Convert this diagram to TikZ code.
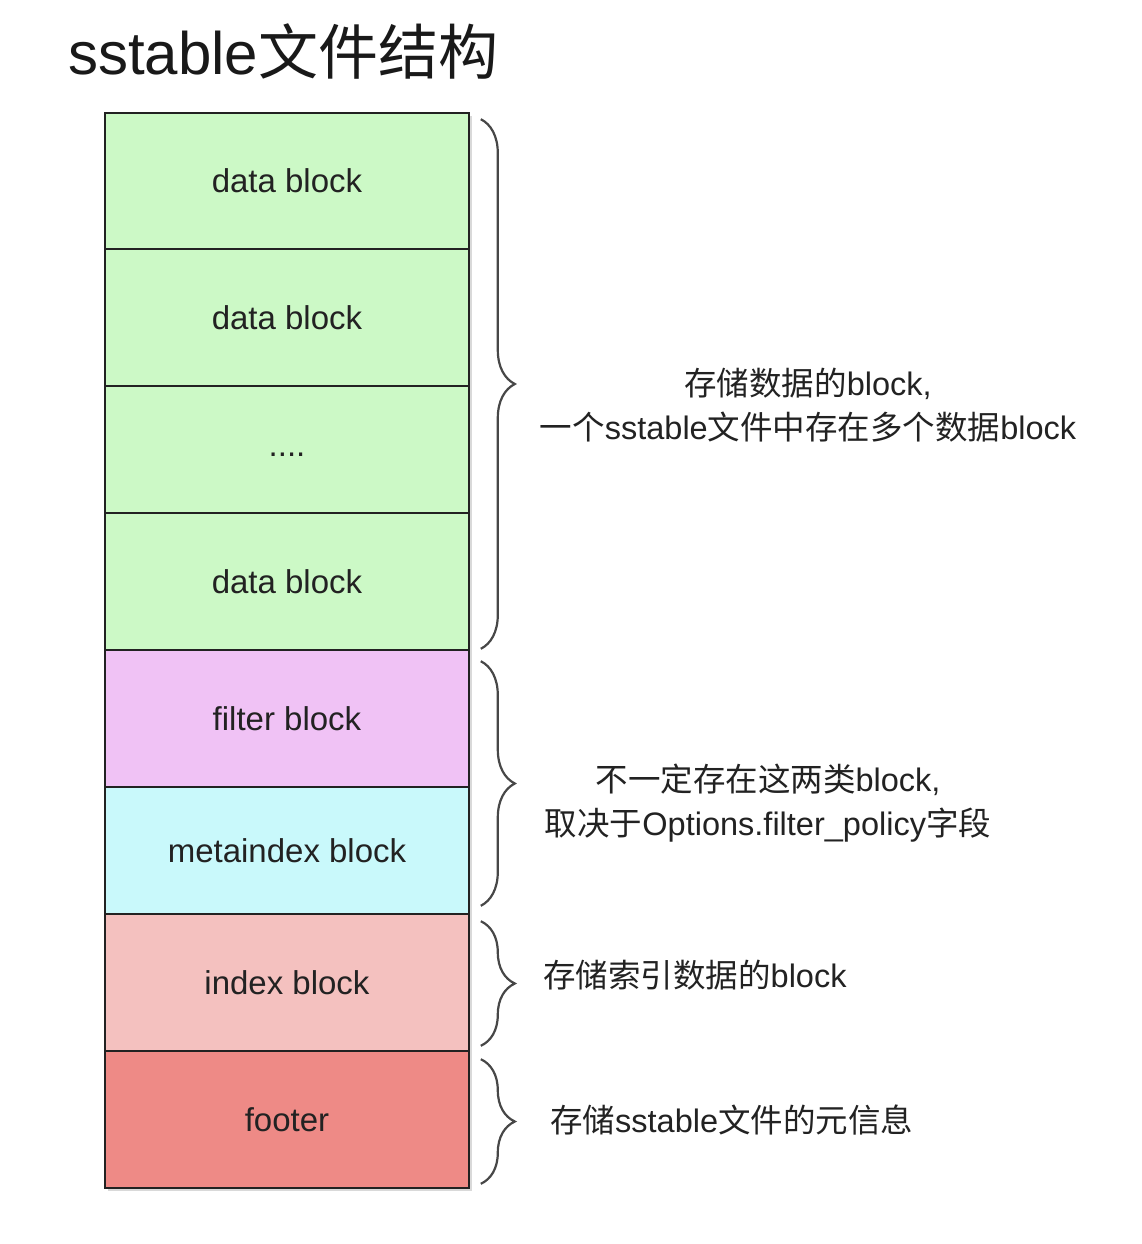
\documentclass[tikz,border=0pt]{standalone}
\usepackage{fontspec}
\setmainfont{Liberation Sans}
\newfontfamily\cjk{Noto Sans CJK SC}
\usetikzlibrary{decorations.pathreplacing}
\definecolor{dgreen}{HTML}{CCF9C6}
\definecolor{fpink}{HTML}{F0C2F5}
\definecolor{mcyan}{HTML}{C9F9FB}
\definecolor{ired}{HTML}{F4C1BF}
\definecolor{fred}{HTML}{EE8A86}
\definecolor{ink}{HTML}{222222}
\begin{document}
\begin{tikzpicture}[x=1pt,y=-1pt,
  blk/.style={draw=ink, line width=1.6pt, minimum width=364pt, inner sep=0pt,
    font=\fontsize{33}{38}\selectfont, text=ink},
  br/.style={decorate, decoration={brace, amplitude=34pt, aspect=0.5},
    draw=black!72, line width=2.2pt},
  lbl/.style={font=\fontsize{32.5}{44}\selectfont, align=center, text=ink, inner sep=0pt}]
\useasboundingbox (0,0) rectangle (1142,1244);
\fill[white] (0,0) rectangle (1142,1244);
\node[anchor=west, inner sep=0pt, font=\fontsize{60}{62}\selectfont, text=black!90] (title) at (68,52) {sstable{\cjk 文件结构}};
\fill[black!15] (108,116) rectangle (472,1191);
\node[blk, fill=dgreen, minimum height=136pt] (b1) at (287,181) {data block};
\node[blk, fill=dgreen, minimum height=137pt] (b2) at (287,317.5) {data block};
\node[blk, fill=dgreen, minimum height=127pt] (b3) at (287,449.5) {\raisebox{-14pt}{....}};
\node[blk, fill=dgreen, minimum height=137pt] (b4) at (287,581.5) {data block};
\node[blk, fill=fpink, minimum height=137pt] (b5) at (287,718.5) {filter block};
\node[blk, fill=mcyan, minimum height=127pt] (b6) at (287,850.5) {metaindex block};
\node[blk, fill=ired, minimum height=137pt] (b7) at (287,982.5) {index block};
\node[blk, fill=fred, minimum height=137pt] (b8) at (287,1119.5) {footer};
\draw[br] ([xshift=11pt,yshift=-7pt]b1.north east) -- ([xshift=11pt,yshift=2pt]b4.south east);
\draw[br] ([xshift=11pt,yshift=-12pt]b5.north east) -- ([xshift=11pt,yshift=9pt]b6.south east);
\draw[br] ([xshift=11pt,yshift=-8pt]b7.north east) -- ([xshift=11pt,yshift=6pt]b7.south east);
\draw[br] ([xshift=11pt,yshift=-9pt]b8.north east) -- ([xshift=11pt,yshift=5pt]b8.south east);
\node[lbl] (l1) at (808,405) {{\cjk 存储数据的}block,\\{\cjk 一个}sstable{\cjk 文件中存在多个数据}block};
\node[lbl] (l2) at (768,803) {{\cjk 不一定存在这两类}block,\\{\cjk 取决于}Options.filter\_policy{\cjk 字段}};
\node[lbl, anchor=west] (l3) at (543,975) {{\cjk 存储索引数据的}block};
\node[lbl, anchor=west] (l4) at (550,1120) {{\cjk 存储}sstable{\cjk 文件的元信息}};
\end{tikzpicture}
\end{document}
